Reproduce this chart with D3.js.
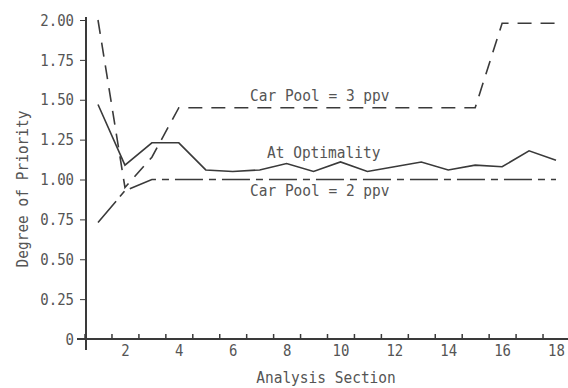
<!DOCTYPE html>
<html>
<head>
<meta charset="UTF-8">
<script src="https://d3js.org/d3.v7.min.js"></script>
<style>
  body { margin: 0; background: #fff; }
  text { font-family: "DejaVu Sans Mono", monospace; fill: #555; }
</style>
</head>
<body>
<svg width="568" height="388"></svg>
<script>
// analysis sections 1..18
var sections = d3.range(1, 19);
var atOptimality = [1.47, 1.09, 1.23, 1.23, 1.06, 1.05, 1.06, 1.10, 1.05, 1.11, 1.05, 1.08, 1.11, 1.06, 1.09, 1.08, 1.18, 1.12];
var carPool2 = [0.73, 0.93, 1.00, 1.00, 1.00, 1.00, 1.00, 1.00, 1.00, 1.00, 1.00, 1.00, 1.00, 1.00, 1.00, 1.00, 1.00, 1.00];
var carPool3 = [2.00, 0.95, 1.14, 1.45, 1.45, 1.45, 1.45, 1.45, 1.45, 1.45, 1.45, 1.45, 1.45, 1.45, 1.45, 1.98, 1.98, 1.98];
var yTicks = [0, 0.25, 0.50, 0.75, 1.00, 1.25, 1.50, 1.75, 2.00];
var xLabels = [2, 4, 6, 8, 10, 12, 14, 16, 18];
var xBounds = d3.range(0.5, 19, 1);

var svg = d3.select("svg");
var ink = "#3a3a3a";
var stretch = "scale(1,1.15)"; // typewriter font is taller than DejaVu

var x = d3.scaleLinear().domain([1, 18]).range([98, 556]);
var y = d3.scaleLinear().domain([0, 2]).range([339, 20]);

// y axis
var yAxis = d3.axisLeft(y)
    .tickValues(yTicks)
    .tickSize(6)
    .tickSizeOuter(0)
    .tickPadding(6)
    .tickFormat(function(d) { return d === 0 ? "0" : d.toFixed(2); });
var gy = svg.append("g").attr("transform", "translate(86,0)").call(yAxis);
gy.select(".domain").remove();
gy.selectAll("line").attr("stroke", ink).attr("stroke-width", 1);
gy.selectAll("text").style("font-size", "14px").style("fill", "#555").attr("transform", stretch);
svg.append("line").attr("x1", 86).attr("x2", 86).attr("y1", 17).attr("y2", 350)
    .attr("stroke", ink).attr("stroke-width", 2);

// x axis: tick marks on section boundaries, labels on even sections
var xTickAxis = d3.axisBottom(x).tickValues(xBounds).tickSize(-5).tickSizeOuter(0).tickFormat("");
var gx = svg.append("g").attr("transform", "translate(0,339)").call(xTickAxis);
gx.select(".domain").remove();
gx.selectAll("line").attr("stroke", ink).attr("stroke-width", 1.5);
var xLabelAxis = d3.axisBottom(x).tickValues(xLabels).tickSize(0).tickPadding(5);
var gl = svg.append("g").attr("transform", "translate(0,339)").call(xLabelAxis);
gl.select(".domain").remove();
gl.selectAll("text").style("font-size", "14px").style("fill", "#555").attr("transform", stretch);
svg.append("line").attr("x1", 77).attr("x2", 568).attr("y1", 339).attr("y2", 339)
    .attr("stroke", ink).attr("stroke-width", 2);

function label(px, py, rot, anchor, str) {
  svg.append("g").attr("transform", "translate(" + px + "," + py + ") rotate(" + rot + ") " + stretch)
    .append("text").attr("text-anchor", anchor).style("font-size", "14.5px").text(str);
}

// axis titles
label(326, 383, 0, "middle", "Analysis Section");
label(28, 189, -90, "middle", "Degree of Priority");

// series
var line = d3.line().x(function(d, i) { return x(sections[i]); }).y(function(d) { return y(d); });

svg.append("path").datum(carPool3).attr("d", line)
    .attr("fill", "none").attr("stroke", ink).attr("stroke-width", 1.6)
    .attr("stroke-dasharray", "14,9");
svg.append("path").datum(carPool2).attr("d", line)
    .attr("fill", "none").attr("stroke", ink).attr("stroke-width", 1.6)
    .attr("stroke-dasharray", "28,6,7,6");
svg.append("path").datum(atOptimality).attr("d", line)
    .attr("fill", "none").attr("stroke", ink).attr("stroke-width", 1.6);

// series labels
label(250, 101, 0, "start", "Car Pool = 3 ppv");
label(267, 158, 0, "start", "At Optimality");
label(250, 196, 0, "start", "Car Pool = 2 ppv");
</script>
</body>
</html>
